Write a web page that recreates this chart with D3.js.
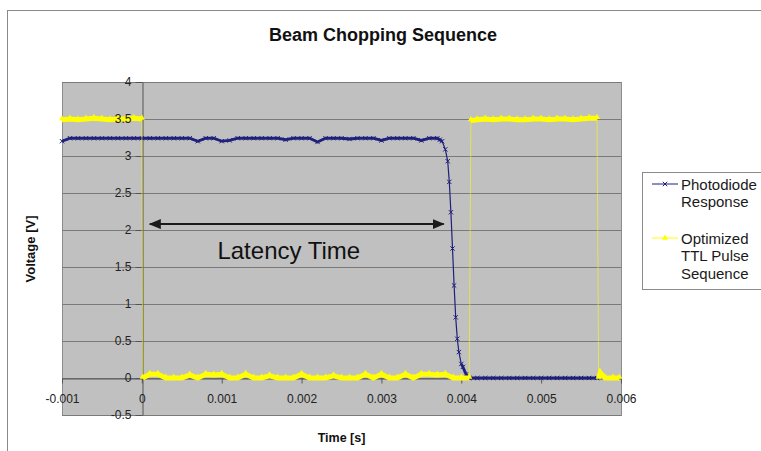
<!DOCTYPE html>
<html>
<head>
<meta charset="utf-8">
<script src="https://cdn.jsdelivr.net/npm/d3@7"></script>
<style>
  body { margin: 0; background: #fff; }
  svg { display: block; font-family: "Liberation Sans", Arial, sans-serif; }
</style>
</head>
<body>
<div id="chart"></div>
<script>
// Photodiode response (time in ms, voltage in V)
const photodiodeTimeMs = [
  -1.0, -0.9, -0.8, -0.7, -0.6, -0.5, -0.4, -0.3, -0.2, -0.1,
  0.0, 0.1, 0.2, 0.3, 0.4, 0.5, 0.6, 0.7, 0.8, 0.9,
  1.0, 1.1, 1.2, 1.3, 1.4, 1.5, 1.6, 1.7, 1.8, 1.9,
  2.0, 2.1, 2.2, 2.3, 2.4, 2.5, 2.6, 2.7, 2.8, 2.9,
  3.0, 3.1, 3.2, 3.3, 3.4, 3.5, 3.6, 3.7,
  3.73, 3.76, 3.8, 3.83, 3.85, 3.87, 3.89, 3.91, 3.93, 3.95, 3.97, 4.0, 4.02, 4.06, 4.1,
  4.2, 4.3, 4.4, 4.5, 4.6, 4.7, 4.8, 4.9, 5.0, 5.1, 5.2, 5.3, 5.4, 5.5, 5.6, 5.7
];
const photodiodeVolts = [
  3.20, 3.24, 3.24, 3.24, 3.24, 3.24, 3.24, 3.24, 3.24, 3.24,
  3.24, 3.24, 3.24, 3.24, 3.24, 3.24, 3.24, 3.20, 3.24, 3.24,
  3.20, 3.21, 3.24, 3.24, 3.24, 3.24, 3.24, 3.24, 3.22, 3.24,
  3.24, 3.24, 3.19, 3.24, 3.24, 3.24, 3.23, 3.24, 3.24, 3.24,
  3.21, 3.24, 3.24, 3.24, 3.24, 3.21, 3.24, 3.24,
  3.22, 3.20, 3.09, 2.93, 2.65, 2.24, 1.75, 1.25, 0.82, 0.53, 0.35, 0.19, 0.15, 0.05, 0.00,
  0.00, 0.00, 0.00, 0.00, 0.00, 0.00, 0.00, 0.00, 0.00, 0.00, 0.00, 0.00, 0.00, 0.00, 0.00, 0.00
];

// Optimized TTL pulse sequence (time in ms, voltage in V)
const ttlTimeMs = [
  -1.0, -0.9, -0.8, -0.7, -0.6, -0.5, -0.4, -0.3, -0.2, -0.1, 0.0,
  0.01, 0.1, 0.2, 0.3, 0.4, 0.5, 0.6, 0.7, 0.8, 0.9,
  1.0, 1.1, 1.2, 1.3, 1.4, 1.5, 1.6, 1.7, 1.8, 1.9,
  2.0, 2.1, 2.2, 2.3, 2.4, 2.5, 2.6, 2.7, 2.8, 2.9,
  3.0, 3.1, 3.2, 3.3, 3.4, 3.5, 3.6, 3.7, 3.8, 3.9, 4.0, 4.1,
  4.12, 4.2, 4.3, 4.4, 4.5, 4.6, 4.7, 4.8, 4.9, 5.0, 5.1, 5.2, 5.3, 5.4, 5.5, 5.6, 5.7,
  5.72, 5.74, 5.8, 5.9, 5.98
];
const ttlVolts = [
  3.49, 3.50, 3.49, 3.50, 3.51, 3.50, 3.49, 3.50, 3.50, 3.51, 3.50,
  0.00, 0.05, 0.05, 0.00, 0.00, 0.00, 0.04, 0.00, 0.05, 0.04,
  0.05, 0.00, 0.00, 0.05, 0.00, 0.00, 0.03, 0.00, 0.00, 0.00,
  0.05, 0.00, 0.00, 0.00, 0.03, 0.00, 0.00, 0.00, 0.05, 0.00,
  0.05, 0.00, 0.00, 0.05, 0.00, 0.05, 0.05, 0.04, 0.05, 0.00, 0.00, 0.00,
  3.48, 3.49, 3.50, 3.49, 3.50, 3.50, 3.49, 3.49, 3.50, 3.50, 3.49, 3.50, 3.50, 3.49, 3.50, 3.51, 3.51,
  0.00, 0.07, 0.00, 0.00, 0.00
];

const xTickValues = [-0.001, 0, 0.001, 0.002, 0.003, 0.004, 0.005, 0.006];
const yTickValues = [-0.5, 0, 0.5, 1, 1.5, 2, 2.5, 3, 3.5, 4];
const legendLabels = [["Photodiode", "Response"], ["Optimized", "TTL Pulse", "Sequence"]];

// Latency arrow annotation (s, V)
const latencyStartEnd = [0.0001, 0.00378];
const latencyVolt = 2.08;

var svgWidth = 761;
var svgHeight = 451;
var plot = { left: 62, top: 82, right: 621, bottom: 415 };
var navy = "#1f1f7c";
var yellow = "#ffff00";

var svg = d3.select("#chart")
  .append("svg")
  .attr("width", svgWidth)
  .attr("height", svgHeight);

// chart area frame
svg.append("rect")
  .attr("x", 7.5).attr("y", 10.5)
  .attr("width", 800).attr("height", 500)
  .attr("fill", "#fff")
  .attr("stroke", "#8a8a8a");

svg.append("text")
  .attr("x", 383).attr("y", 41)
  .attr("text-anchor", "middle")
  .attr("font-size", "18px")
  .attr("font-weight", "bold")
  .attr("fill", "#111")
  .text("Beam Chopping Sequence");

var xScale = d3.scaleLinear().domain([-0.001, 0.006]).range([plot.left, plot.right]);
var yScale = d3.scaleLinear().domain([-0.5, 4]).range([plot.bottom, plot.top]);

// plot area
svg.append("rect")
  .attr("x", plot.left + 0.5).attr("y", plot.top + 0.5)
  .attr("width", plot.right - plot.left).attr("height", plot.bottom - plot.top)
  .attr("fill", "#c0c0c0")
  .attr("stroke", "#8c8c8c");

// gridlines
svg.append("g").selectAll("line")
  .data(yTickValues)
  .enter()
  .append("line")
  .attr("x1", plot.left).attr("x2", plot.right)
  .attr("y1", d => Math.round(yScale(d)) + 0.5)
  .attr("y2", d => Math.round(yScale(d)) + 0.5)
  .attr("stroke", "#7a7a7a");

var x0 = Math.round(xScale(0)) + 0.5;
var y0 = Math.round(yScale(0)) + 0.5;
var fmt = d => String(d);

// axis lines and ticks (labels drawn later, on top of the series)
svg.append("g")
  .attr("transform", `translate(${x0}, 0)`)
  .call(d3.axisLeft(yScale).tickValues(yTickValues).tickSize(7).tickSizeOuter(0).tickFormat(""))
  .call(g => g.selectAll("path, line").attr("stroke", "#555"));

svg.append("g")
  .attr("transform", `translate(0, ${y0})`)
  .call(d3.axisBottom(xScale).tickValues(xTickValues).tickSize(5).tickSizeOuter(0).tickFormat(""))
  .call(g => g.selectAll("path, line").attr("stroke", "#555"));

// split a series into flat runs (drawn as a thick band like the dense markers)
function flatRuns(data, tol) {
  var runs = [];
  var cur = [data[0]];
  for (var i = 1; i < data.length; i++) {
    if (Math.abs(data[i].v - data[i - 1].v) <= tol) {
      cur.push(data[i]);
    } else {
      if (cur.length > 1) runs.push(cur);
      cur = [data[i]];
    }
  }
  if (cur.length > 1) runs.push(cur);
  return runs;
}

var line = d3.line().x(d => xScale(d.t)).y(d => yScale(d.v));

// Photodiode series
var pdData = photodiodeTimeMs.map((t, i) => ({ t: t / 1000, v: photodiodeVolts[i] }));
var pdGroup = svg.append("g");
pdGroup.append("path")
  .datum(pdData)
  .attr("d", line)
  .attr("fill", "none")
  .attr("stroke", navy)
  .attr("stroke-width", 1.2);
pdGroup.selectAll(".run")
  .data(flatRuns(pdData, 0.1))
  .enter()
  .append("path")
  .attr("d", line)
  .attr("fill", "none")
  .attr("stroke", navy)
  .attr("stroke-width", 2.8);
pdGroup.selectAll(".mark")
  .data(pdData)
  .enter()
  .append("path")
  .attr("transform", d => `translate(${xScale(d.t)}, ${yScale(d.v)})`)
  .attr("d", d3.symbol(d3.symbolX, 14))
  .attr("fill", "none")
  .attr("stroke", navy)
  .attr("stroke-width", 1);

// TTL series
var ttlData = ttlTimeMs.map((t, i) => ({ t: t / 1000, v: ttlVolts[i] }));
var ttlGroup = svg.append("g");
ttlGroup.append("path")
  .datum(ttlData)
  .attr("d", line)
  .attr("fill", "none")
  .attr("stroke", yellow)
  .attr("stroke-opacity", 0.55)
  .attr("stroke-width", 1);
ttlGroup.selectAll(".run")
  .data(flatRuns(ttlData, 0.5))
  .enter()
  .append("path")
  .attr("d", line)
  .attr("fill", "none")
  .attr("stroke", yellow)
  .attr("stroke-width", 5);
ttlGroup.selectAll(".mark")
  .data(ttlData)
  .enter()
  .append("path")
  .attr("transform", d => `translate(${xScale(d.t)}, ${yScale(d.v) - 1})`)
  .attr("d", d3.symbol(d3.symbolTriangle, 16))
  .attr("fill", yellow);

// tick labels on top
svg.append("g")
  .attr("transform", `translate(${x0}, 0)`)
  .call(d3.axisLeft(yScale).tickValues(yTickValues).tickSize(0).tickPadding(11).tickFormat(fmt))
  .call(g => g.select(".domain").remove())
  .call(g => g.selectAll("text").attr("font-size", "12px").attr("fill", "#222").attr("font-family", "Liberation Sans, Arial, sans-serif"));

svg.append("g")
  .attr("transform", `translate(0, ${y0})`)
  .call(d3.axisBottom(xScale).tickValues(xTickValues).tickSize(0).tickPadding(16).tickFormat(fmt))
  .call(g => g.select(".domain").remove())
  .call(g => g.selectAll("text").attr("font-size", "12px").attr("fill", "#222").attr("font-family", "Liberation Sans, Arial, sans-serif"));

// axis titles
svg.append("text")
  .attr("transform", "translate(30, 249) rotate(-90)")
  .attr("text-anchor", "middle")
  .attr("dominant-baseline", "central")
  .attr("font-size", "13px")
  .attr("font-weight", "bold")
  .attr("fill", "#111")
  .text("Voltage [V]");

svg.append("text")
  .attr("x", (plot.left + plot.right) / 2)
  .attr("y", 442)
  .attr("text-anchor", "middle")
  .attr("font-size", "12.5px")
  .attr("font-weight", "bold")
  .attr("fill", "#111")
  .text("Time [s]");

// latency arrow
var defs = svg.append("defs");
defs.append("marker")
  .attr("id", "arrowhead")
  .attr("viewBox", "0 0 12 10")
  .attr("refX", 11).attr("refY", 5)
  .attr("markerWidth", 12).attr("markerHeight", 10)
  .attr("markerUnits", "userSpaceOnUse")
  .attr("orient", "auto-start-reverse")
  .append("path")
  .attr("d", "M0,0 L12,5 L0,10 Z")
  .attr("fill", "#1a1a1a");

svg.append("line")
  .attr("x1", xScale(latencyStartEnd[0]))
  .attr("x2", xScale(latencyStartEnd[1]))
  .attr("y1", yScale(latencyVolt))
  .attr("y2", yScale(latencyVolt))
  .attr("stroke", "#1a1a1a")
  .attr("stroke-width", 2)
  .attr("marker-start", "url(#arrowhead)")
  .attr("marker-end", "url(#arrowhead)");

svg.append("text")
  .attr("x", xScale(0.00184))
  .attr("y", yScale(1.72))
  .attr("text-anchor", "middle")
  .attr("dominant-baseline", "central")
  .attr("font-size", "24px")
  .attr("fill", "#111")
  .text("Latency Time");

// legend
var legend = svg.append("g");
legend.append("rect")
  .attr("x", 642.5).attr("y", 172.5)
  .attr("width", 140).attr("height", 117)
  .attr("fill", "#fff")
  .attr("stroke", "#8a8a8a");

var legendRows = [184, 238];
var lineGap = 17.5;

legend.append("line")
  .attr("x1", 652).attr("x2", 678)
  .attr("y1", legendRows[0]).attr("y2", legendRows[0])
  .attr("stroke", navy).attr("stroke-width", 1);
legend.append("path")
  .attr("transform", `translate(665, ${legendRows[0]})`)
  .attr("d", d3.symbol(d3.symbolX, 14))
  .attr("fill", "none").attr("stroke", navy);

legend.append("line")
  .attr("x1", 652).attr("x2", 678)
  .attr("y1", legendRows[1]).attr("y2", legendRows[1])
  .attr("stroke", yellow).attr("stroke-width", 1);
legend.append("path")
  .attr("transform", `translate(665, ${legendRows[1]})`)
  .attr("d", d3.symbol(d3.symbolTriangle, 16))
  .attr("fill", yellow);

legendLabels.forEach(function(lines, k) {
  lines.forEach(function(txt, j) {
    legend.append("text")
      .attr("x", 681)
      .attr("y", legendRows[k] + j * lineGap)
      .attr("dominant-baseline", "central")
      .attr("font-size", "15px")
      .attr("fill", "#1a1a1a")
      .text(txt);
  });
});
</script>
</body>
</html>
